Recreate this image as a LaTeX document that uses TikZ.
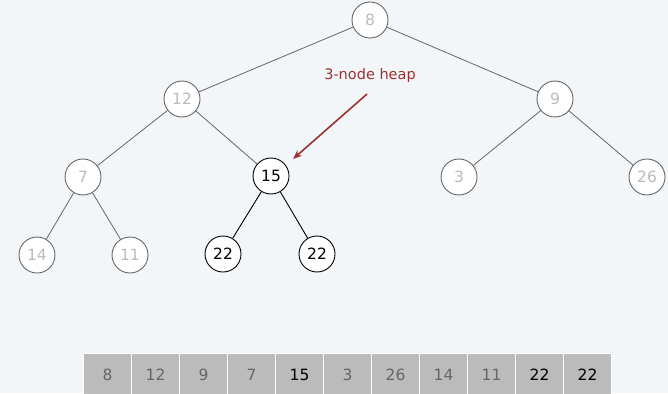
\documentclass[tikz,border=0pt]{standalone}
\usepackage{fontspec}
\setmainfont{DejaVu Sans}
\usepackage{tikz}
\usetikzlibrary{positioning}
\usetikzlibrary{arrows.meta}
\definecolor{bgcol}{HTML}{F3F6F9}
\definecolor{keygray}{HTML}{BBBBBB}
\definecolor{edgegray}{HTML}{666666}
\definecolor{cellgray}{HTML}{BBBBBB}
\definecolor{celltext}{HTML}{666666}
\definecolor{heapred}{HTML}{993333}

\begin{document}
\begin{tikzpicture}[x=1pt,y=-1pt,font=\fontsize{15.5}{18}\selectfont,on grid]
			\tikzstyle{KeyStyle}  = [circle, draw=edgegray, line width=0.9pt, fill=white, minimum size=36pt, inner sep=0pt, text=keygray]
			\tikzstyle{HeapStyle} = [KeyStyle, draw=black, text=black]
			\tikzstyle{LinkStyle} = [draw=edgegray, line width=0.8pt]
			\tikzstyle{HeapLink}  = [draw=black, line width=0.9pt]
			\tikzstyle{CellStyle} = [rectangle, fill=cellgray, draw=white, line width=1.2pt, minimum width=48pt, minimum height=42pt, inner sep=0pt, anchor=north west]
			\fill[bgcol] (0,0) rectangle (668,393);
			\useasboundingbox (0,0) rectangle (668,393);
			\node[KeyStyle] (n8) at (370,20) {8};
				\node[KeyStyle, below left=79pt and 188pt of n8] (n12) {12};
				\node[KeyStyle, below right=79pt and 185pt of n8] (n9) {9};
				\node[KeyStyle, below left=78pt and 99pt of n12] (n7) {7};
				\node[HeapStyle, below right=77pt and 89pt of n12] (n15) {15};
				\node[KeyStyle, below left=78pt and 96pt of n9] (n3) {3};
				\node[KeyStyle, below right=78pt and 92pt of n9] (n26) {26};
				\node[KeyStyle, below left=78pt and 46pt of n7] (n14) {14};
				\node[KeyStyle, below right=78pt and 47pt of n7] (n11) {11};
				\node[HeapStyle, below left=78pt and 48pt of n15] (n22a) {22};
				\node[HeapStyle, below right=78pt and 46pt of n15] (n22b) {22};
			\draw[LinkStyle] (n8) -- (n12);  \draw[LinkStyle] (n8) -- (n9);
			\draw[LinkStyle] (n12) -- (n7);  \draw[LinkStyle] (n12) -- (n15);
			\draw[LinkStyle] (n9) -- (n3);   \draw[LinkStyle] (n9) -- (n26);
			\draw[LinkStyle] (n7) -- (n14);  \draw[LinkStyle] (n7) -- (n11);
			\draw[HeapLink] (n15) -- (n22a); \draw[HeapLink] (n15) -- (n22b);
			% label and arrow
			\node[text=heapred, font=\fontsize{14.5}{17}\selectfont] (lbl) at (370,76) {3-node heap};
			\coordinate (tail) at (367,94);
			\coordinate (tip) at (293,159);
			\draw[heapred, line width=1.6pt, -{Stealth[length=9pt,width=7pt]}] (tail) -- (tip);
			% array
			\foreach \v/\c [count=\i from 0] in {8/celltext,12/celltext,9/celltext,7/celltext,15/black,3/celltext,26/celltext,14/celltext,11/celltext,22/black,22/black}
				\node[CellStyle, text=\c] (c\i) at (83+48*\i,353) {\v};
		\end{tikzpicture}
\end{document}
